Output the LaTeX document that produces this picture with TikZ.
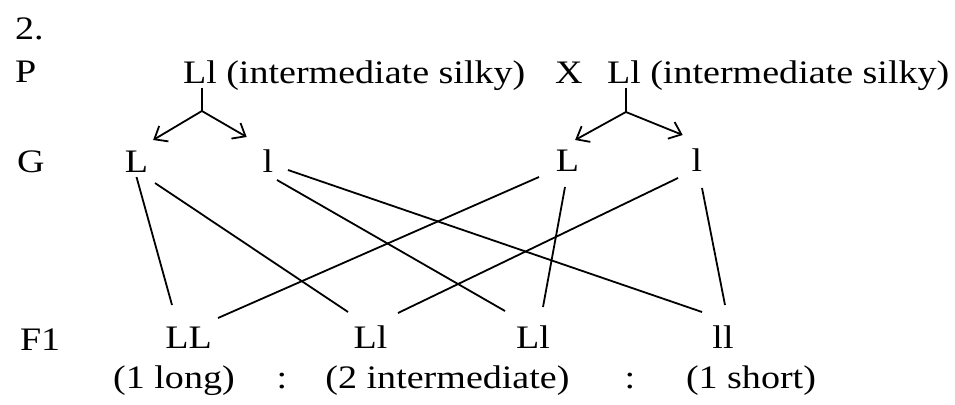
\documentclass[tikz,border=0pt]{standalone}
\usepackage{fontspec}
\setmainfont{Liberation Serif}[FakeStretch=1.16]
\usetikzlibrary{arrows.meta, positioning}

\begin{document}
\begin{tikzpicture}[x=1pt, y=-1pt,
    tx/.style={inner sep=0pt, outer sep=0pt, anchor=base west,
               font=\fontsize{32.8}{40}\selectfont},
    ct/.style={tx, anchor=base},
    gm/.style={ct, text height=22pt, text depth=0pt},
    ln/.style={line width=1.8pt},
    ar/.style={line width=1.8pt, -{Straight Barb[length=11pt, width=18pt]}}
  ]
  \useasboundingbox (0,0) rectangle (955,404);

  \node[tx] (num)  at (15,40)  {2.};
  \node[tx] (rowP) at (15,82)  {P};
  \node[tx] (rowG) at (17,172) {G};
  \node[tx] (rowF) at (20,350) {F1};

  \node[tx] (p1) at (183,83) {Ll};
  \node[tx, base right=9.5pt of p1] (p1t) {(intermediate silky)};
  \node[tx] (cross) at (555,83) {X};
  \node[tx] (p2) at (607,83) {Ll};
  \node[tx, base right=9.5pt of p2] (p2t) {(intermediate silky)};

  \node[gm] (gLa) at (136.5,172) {L};
  \node[gm] (gla) at (268,172)   {l};
  \node[gm] (gLb) at (567.5,171) {L};
  \node[gm] (glb) at (697,171)   {l};

  \node[gm] (LL)  at (188.5,348) {LL};
  \node[gm] (Ll1) at (370.5,348) {Ll};
  \node[gm] (Ll2) at (533,348)   {Ll};
  \node[gm] (ll)  at (723,348)   {ll};

  \node[ct] (r1) at (174,388)   {(1 long)};
  \node[ct] (c1) at (282,388)   {:};
  \node[ct] (r2) at (447.5,388) {(2 intermediate)};
  \node[ct] (c2) at (630,388)   {:};
  \node[ct] (r3) at (751,388)   {(1 short)};

  \coordinate (f1) at ([shift={(2,28)}]p1.south);
  \coordinate (f2) at ([shift={(2,29)}]p2.south);
  \draw[ln] ([shift={(2,5)}]p1.south) -- (f1);
  \draw[ln] ([shift={(2,5)}]p2.south) -- (f2);
  \draw[ar] (f1) -- ([shift={(5,-10)}]gLa.north east);
  \draw[ar] (f1) -- ([shift={(-16,-13)}]gla.north west);
  \draw[ar] (f2) -- ([shift={(-4,-9)}]gLb.north east);
  \draw[ar] (f2) -- ([shift={(-9,-14)}]glb.north west);

  \draw[ln] ([shift={(0,5)}]gLa.south)     -- ([shift={(-16.5,-21)}]LL.north);
  \draw[ln] ([shift={(18.5,11)}]gLa.south) -- ([shift={(-22.5,-14)}]Ll1.north);
  \draw[ln] ([shift={(9,8)}]gla.south)     -- ([shift={(-28,-15)}]Ll2.north);
  \draw[ln] ([shift={(20,-2)}]gla.south)   -- ([shift={(-21,-14)}]ll.north);
  \draw[ln] ([shift={(-28.5,6)}]gLb.south) -- ([shift={(29.5,-8)}]LL.north);
  \draw[ln] ([shift={(-2.5,16)}]gLb.south) -- ([shift={(10,-19)}]Ll2.north);
  \draw[ln] ([shift={(-19,7)}]glb.south)   -- ([shift={(27.5,-13)}]Ll1.north);
  \draw[ln] ([shift={(5,17)}]glb.south)    -- ([shift={(2,-21)}]ll.north);
\end{tikzpicture}
\end{document}
